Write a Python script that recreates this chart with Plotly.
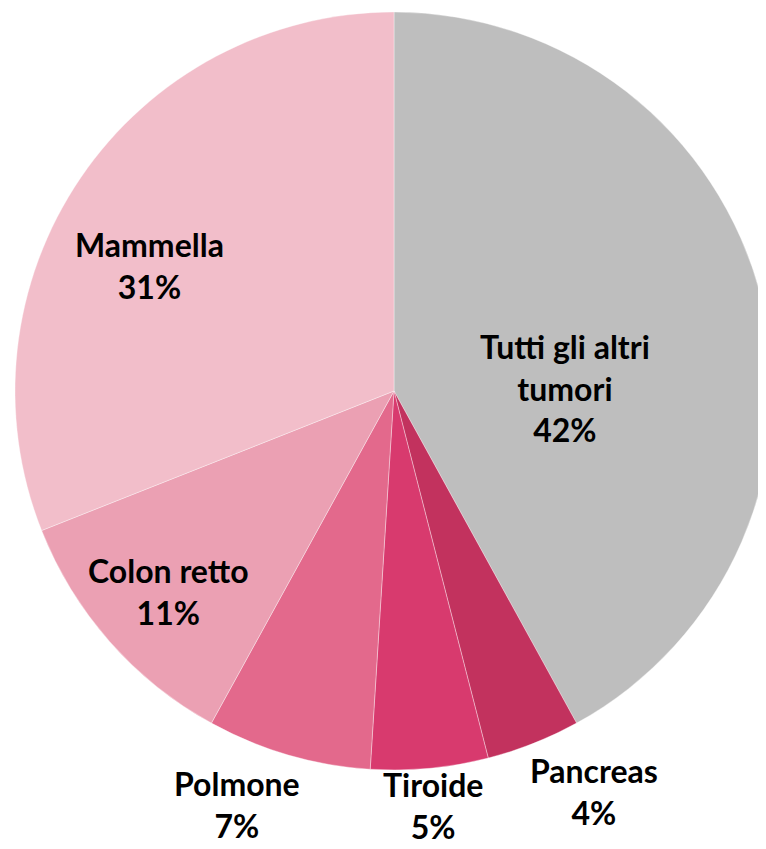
import plotly.graph_objects as go

# Data
labels = ["Tutti gli altri tumori", "Pancreas", "Tiroide", "Polmone", "Colon retto", "Mammella"]
values = [42, 4, 5, 7, 11, 31]

# Styles
colors = ["#BEBEBE", "#C2325E", "#D83A6E", "#E3698C", "#EBA0B3", "#F2BECA"]
display_labels = ["Tutti gli altri<br>tumori", "Pancreas", "Tiroide", "Polmone", "Colon retto", "Mammella"]
# label anchor positions in figure pixels: x, y (from top)
label_pos = [(557, 380), (586, 783), (425, 797), (229, 796), (160, 583), (141, 258)]

W, H = 780, 849
FONT = "Century Gothic, Lato, 'DejaVu Sans', sans-serif"

# pie: centre (386, 383) px, radius 379 px in figure pixels
cx, cy, r = 386, 383, 379

fig = go.Figure(go.Pie(
    labels=labels,
    values=values,
    sort=False,
    direction="clockwise",
    rotation=0,
    marker=dict(colors=colors, line=dict(color="rgba(255,255,255,0.6)", width=0.6)),
    textinfo="none",
    hoverinfo="label+percent",
    domain=dict(x=[(cx - r) / W, (cx + r) / W], y=[(H - cy - r) / H, (H - cy + r) / H]),
    showlegend=False,
))

total = sum(values)
for lab, v, (px, py) in zip(display_labels, values, label_pos):
    fig.add_annotation(
        x=px / W, y=1 - py / H, xref="paper", yref="paper",
        text=f"<b>{lab}<br>{round(100 * v / total)}%</b>",
        showarrow=False, xanchor="center", yanchor="middle", align="center",
        font=dict(family=FONT, size=32, color="#000000"),
    )

fig.update_layout(
    width=W, height=H,
    margin=dict(l=0, r=0, t=0, b=0),
    paper_bgcolor="white", plot_bgcolor="white",
)

fig.write_html("out.html")
